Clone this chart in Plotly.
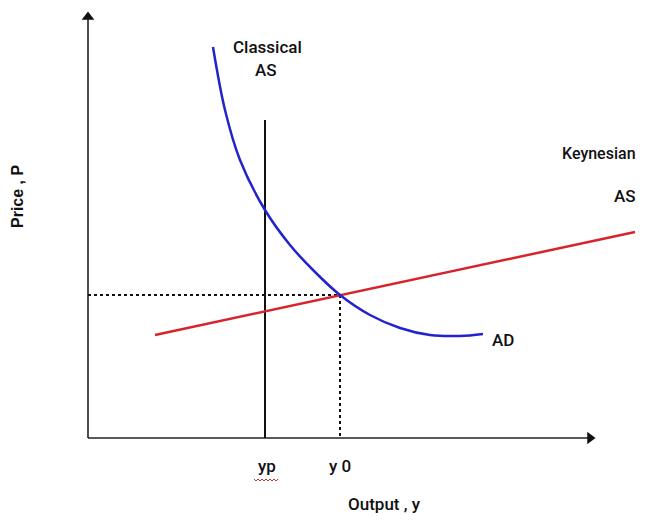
import plotly.graph_objects as go

# Coordinates: origin of the diagram at the axes corner; units ~ pixels
ad_x = [125, 137, 152, 177, 202, 227, 252, 282, 312, 342, 372, 395]
ad_y = [391, 328, 278, 228, 193, 166, 143, 123, 110, 103, 102, 104]

classical_x = [177, 177]
classical_y = [0, 318]

keynes_x = [67, 547]
keynes_y = [103, 206]

eq_x = 252
eq_y = 143

fig = go.Figure()

# axes
fig.add_trace(go.Scatter(x=[0, 0], y=[0, 420], mode="lines",
                         line=dict(color="#222222", width=1.6), hoverinfo="skip"))
fig.add_trace(go.Scatter(x=[0, 500], y=[0, 0], mode="lines",
                         line=dict(color="#222222", width=1.6), hoverinfo="skip"))
fig.add_trace(go.Scatter(x=[0], y=[421], mode="markers",
                         marker=dict(symbol="triangle-up", size=11, color="#111111"), hoverinfo="skip"))
fig.add_trace(go.Scatter(x=[502], y=[0], mode="markers",
                         marker=dict(symbol="triangle-right", size=11, color="#111111"), hoverinfo="skip"))

# dotted guides
fig.add_trace(go.Scatter(x=[0, eq_x], y=[eq_y, eq_y], mode="lines",
                         line=dict(color="#111111", width=2, dash="dot"), hoverinfo="skip"))
fig.add_trace(go.Scatter(x=[eq_x, eq_x], y=[eq_y, 0], mode="lines",
                         line=dict(color="#111111", width=2, dash="dot"), hoverinfo="skip"))

# classical AS
fig.add_trace(go.Scatter(x=classical_x, y=classical_y, mode="lines",
                         line=dict(color="#111111", width=2), hoverinfo="skip"))
# Keynesian AS
fig.add_trace(go.Scatter(x=keynes_x, y=keynes_y, mode="lines",
                         line=dict(color="#d8232a", width=2.5), hoverinfo="skip"))
# AD
fig.add_trace(go.Scatter(x=ad_x, y=ad_y, mode="lines", line_shape="spline",
                         line=dict(color="#2323cc", width=2.5), hoverinfo="skip"))

lab_font = dict(family="Roboto, Arial", size=17, color="#111111", weight=500)
ann = [
    dict(x=179, y=391, text="Classical", anchor="center"),
    dict(x=178, y=368, text="AS", anchor="center"),
    dict(x=550, y=285, text="Keynesian", anchor="right", size=16),
    dict(x=550, y=242, text="AS", anchor="right"),
    dict(x=415, y=98, text="AD", anchor="center"),
    dict(x=179, y=-28, text="yp", anchor="center"),
    dict(x=252, y=-28, text="y 0", anchor="center"),
    dict(x=296, y=-66, text="Output , y", anchor="center"),
]
for a in ann:
    f = dict(lab_font)
    if "size" in a:
        f["size"] = a["size"]
    fig.add_annotation(x=a["x"], y=a["y"], text=a["text"], showarrow=False,
                       font=f, xanchor=a["anchor"], yanchor="middle")

fig.add_annotation(x=-71, y=241, text="<b>Price , P</b>", showarrow=False, textangle=-90,
                   font=dict(family="Liberation Sans, Arial", size=16, color="#111111"),
                   xanchor="center", yanchor="middle")

# squiggly underline under yp
sq_x = [166, 168, 170, 172, 174, 176, 178, 180, 182, 184, 186, 188, 190]
sq_y = [-41, -43, -41, -43, -41, -43, -41, -43, -41, -43, -41, -43, -41]
fig.add_trace(go.Scatter(x=sq_x, y=sq_y, mode="lines",
                         line=dict(color="#d03030", width=1), hoverinfo="skip"))

# page has an 8px body margin: size the figure to fit and offset ranges
fig.update_layout(
    width=631, height=506,
    margin=dict(l=0, r=0, t=0, b=0),
    paper_bgcolor="white", plot_bgcolor="white",
    showlegend=False,
    xaxis=dict(range=[-80, 551], visible=False, fixedrange=True),
    yaxis=dict(range=[-76, 430], visible=False, fixedrange=True),
)

fig.write_html("out.html")
